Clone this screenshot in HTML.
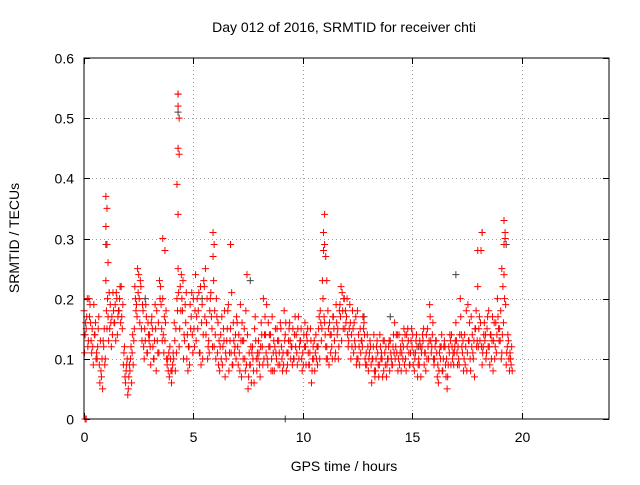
<!DOCTYPE html>
<html><head><meta charset="utf-8"><style>
html,body{margin:0;padding:0;background:#fff;}
svg text{font-family:"Liberation Sans",sans-serif;font-size:14px;fill:#000;}
</style></head><body>
<svg id="chart" width="640" height="480" viewBox="0 0 640 480" xmlns="http://www.w3.org/2000/svg">
<text x="344" y="32" text-anchor="middle">Day 012 of 2016, SRMTID for receiver chti</text>
<text transform="translate(19,238) rotate(-90)" text-anchor="middle">SRMTID / TECUs</text>
<text x="344" y="471" text-anchor="middle">GPS time / hours</text>
<g id="grid"></g>
<g id="ticks"></g>
<g id="marks"></g>
<rect x="84" y="58" width="525" height="361" fill="none" stroke="#000" stroke-width="1"/>
</svg>
<script>
const xTicks=[0,5,10,15,20];
const yTicks=[0,0.1,0.2,0.3,0.4,0.5,0.6];
const yTickLabels=["0","0.1","0.2","0.3","0.4","0.5","0.6"];
const tStart=0, tStep=0.1;
const seriesA=[0.18,0.15,0.13,0.16,0.12,0.14,0.10,0.09,0.07,0.12,
0.23,0.17,0.19,0.14,0.16,0.20,0.18,0.22,0.09,0.06,
0.04,0.08,0.11,0.15,0.19,0.24,0.22,0.18,0.13,0.11,
0.14,0.17,0.10,0.08,0.16,0.22,0.20,0.13,0.09,0.07,
0.06,0.10,0.15,0.25,0.22,0.18,0.13,0.10,0.12,0.17,
0.20,0.24,0.15,0.11,0.19,0.22,0.16,0.13,0.21,0.27,
0.14,0.11,0.08,0.17,0.13,0.10,0.19,0.15,0.09,0.12,
0.16,0.11,0.07,0.13,0.18,0.05,0.09,0.12,0.15,0.08,
0.11,0.16,0.20,0.14,0.09,0.12,0.17,0.08,0.10,0.13,
0.15,0.11,0.14,0.09,0.16,0.12,0.10,0.14,0.17,0.13,
0.11,0.16,0.13,0.09,0.06,0.10,0.14,0.12,0.18,0.23,
0.16,0.12,0.09,0.14,0.17,0.11,0.15,0.19,0.21,0.20,
0.17,0.13,0.10,0.15,0.12,0.18,0.09,0.13,0.16,0.11,
0.08,0.12,0.10,0.07,0.13,0.09,0.11,0.08,0.12,0.10,
0.13,0.09,0.16,0.11,0.14,0.08,0.12,0.10,0.15,0.09,
0.12,0.08,0.14,0.10,0.07,0.13,0.11,0.15,0.19,0.12,
0.09,0.13,0.06,0.10,0.08,0.12,0.05,0.11,0.14,0.09,
0.16,0.12,0.20,0.11,0.14,0.08,0.13,0.17,0.10,0.15,
0.22,0.13,0.09,0.16,0.11,0.18,0.14,0.08,0.12,0.20,
0.15,0.11,0.24,0.09,0.13,0.10];
const seriesB=[0.14,0.20,0.17,0.11,0.19,0.10,0.15,0.13,0.05,0.09,
0.15,0.21,0.12,0.18,0.13,0.17,0.22,0.15,0.12,0.09,
0.07,0.12,0.09,0.20,0.25,0.16,0.13,0.10,0.17,0.14,
0.09,0.12,0.19,0.13,0.23,0.15,0.11,0.18,0.08,0.10,
0.09,0.13,0.20,0.12,0.24,0.10,0.16,0.08,0.19,0.14,
0.12,0.17,0.21,0.09,0.14,0.25,0.10,0.18,0.15,0.12,
0.20,0.09,0.14,0.12,0.07,0.15,0.11,0.21,0.13,0.10,
0.09,0.19,0.13,0.10,0.24,0.11,0.06,0.08,0.13,0.10,
0.07,0.12,0.14,0.19,0.12,0.08,0.11,0.15,0.13,0.09,
0.10,0.18,0.08,0.13,0.10,0.15,0.17,0.09,0.12,0.10,
0.14,0.09,0.11,0.15,0.10,0.08,0.12,0.17,0.13,0.28,
0.12,0.18,0.14,0.10,0.13,0.16,0.12,0.22,0.15,0.18,
0.14,0.19,0.12,0.16,0.09,0.14,0.11,0.17,0.10,0.14,
0.11,0.06,0.14,0.10,0.09,0.12,0.07,0.11,0.09,0.13,
0.10,0.14,0.12,0.08,0.11,0.13,0.09,0.14,0.11,0.13,
0.09,0.11,0.07,0.13,0.12,0.09,0.14,0.10,0.13,0.16,
0.12,0.07,0.11,0.14,0.12,0.07,0.09,0.13,0.10,0.12,
0.11,0.09,0.14,0.08,0.12,0.19,0.10,0.14,0.07,0.12,
0.15,0.28,0.12,0.14,0.17,0.09,0.13,0.16,0.11,0.15,
0.18,0.22,0.30,0.12,0.08,0.12];
const seriesC=[0.11,0.17,0.20,0.13,0.09,0.16,0.12,0.06,0.10,0.15,
0.18,0.13,0.16,0.21,0.19,0.14,0.20,0.17,0.11,0.08,
0.05,0.10,0.14,0.22,0.17,0.20,0.15,0.12,0.19,0.16,
0.12,0.15,0.13,0.18,0.11,0.19,0.14,0.16,0.10,0.12,
0.08,0.16,0.11,0.21,0.18,0.23,0.19,0.14,0.09,0.21,
0.15,0.13,0.18,0.22,0.10,0.17,0.20,0.11,0.17,0.23,
0.10,0.16,0.12,0.09,0.18,0.13,0.08,0.11,0.16,0.14,
0.12,0.08,0.16,0.15,0.09,0.07,0.12,0.10,0.17,0.11,
0.09,0.14,0.10,0.11,0.16,0.14,0.08,0.12,0.15,0.11,
0.12,0.09,0.16,0.11,0.13,0.09,0.14,0.11,0.10,0.15,
0.09,0.12,0.15,0.11,0.08,0.13,0.10,0.15,0.16,0.20,
0.14,0.10,0.16,0.12,0.15,0.19,0.10,0.17,0.18,0.15,
0.20,0.15,0.14,0.11,0.17,0.10,0.15,0.12,0.14,0.09,
0.10,0.09,0.12,0.08,0.11,0.14,0.10,0.13,0.07,0.12,
0.11,0.12,0.10,0.14,0.09,0.11,0.15,0.08,0.13,0.11,
0.14,0.10,0.12,0.09,0.11,0.15,0.08,0.12,0.17,0.14,
0.10,0.11,0.08,0.12,0.10,0.09,0.07,0.14,0.12,0.11,
0.13,0.10,0.17,0.13,0.09,0.11,0.16,0.12,0.13,0.18,
0.12,0.16,0.11,0.13,0.15,0.12,0.10,0.13,0.16,0.17,
0.13,0.14,0.20,0.11,0.10,0.09];
const seriesD=[0.16,0.12,0.19,0.15,0.14,0.11,0.17,0.08,0.13,0.10,
0.20,0.15,0.17,0.16,0.21,0.18,0.16,0.19,0.07,0.10,
0.09,0.06,0.13,0.18,0.21,0.23,0.19,0.15,0.11,0.13,
0.16,0.10,0.15,0.11,0.20,0.13,0.17,0.10,0.11,0.08,
0.11,0.08,0.18,0.15,0.20,0.14,0.21,0.12,0.15,0.11,
0.18,0.20,0.11,0.16,0.23,0.14,0.12,0.20,0.12,0.18,
0.17,0.13,0.10,0.15,0.11,0.18,0.13,0.09,0.11,0.17,
0.14,0.13,0.10,0.08,0.14,0.09,0.11,0.06,0.10,0.13,
0.12,0.09,0.17,0.10,0.14,0.10,0.13,0.11,0.09,0.16,
0.08,0.13,0.11,0.15,0.12,0.10,0.12,0.15,0.13,0.08,
0.12,0.14,0.09,0.13,0.12,0.11,0.09,0.10,0.15,0.17,
0.10,0.15,0.11,0.17,0.10,0.14,0.18,0.13,0.20,0.16,
0.12,0.16,0.18,0.13,0.10,0.12,0.13,0.15,0.09,0.12,
0.13,0.10,0.08,0.12,0.07,0.10,0.13,0.09,0.10,0.08,
0.09,0.11,0.14,0.10,0.12,0.10,0.14,0.12,0.09,0.15,
0.11,0.13,0.09,0.12,0.14,0.11,0.10,0.13,0.11,0.10,
0.13,0.09,0.12,0.08,0.13,0.10,0.12,0.09,0.11,0.13,
0.09,0.14,0.12,0.10,0.18,0.13,0.08,0.11,0.15,0.13,
0.17,0.12,0.14,0.10,0.12,0.14,0.17,0.10,0.14,0.13,
0.10,0.16,0.19,0.14,0.11,0.08];
const spikeTimes=[0.05,0.1,1.0,1.05,1.0,1.05,1.1,4.3,4.3,4.35,4.3,4.35,4.25,4.3,3.6,3.7,11.0,10.95,11.0,11.05,11.1,19.2,19.25,19.2,18.2,18.0,5.9,5.95,6.7,19.1];
const spikeValues=[0.0,0.0,0.37,0.35,0.32,0.29,0.26,0.54,0.52,0.50,0.45,0.44,0.39,0.34,0.30,0.28,0.34,0.31,0.29,0.27,0.23,0.33,0.31,0.29,0.31,0.28,0.31,0.29,0.29,0.25];
const grayTimes=[4.3,4.3,6.7,18.2,19.3,9.2,0,1.0,7.6,17.0,14.0,2.8,12.8,15.3,5.4];
const grayValues=[0.54,0.51,0.29,0.31,0.29,0.0,0.14,0.29,0.23,0.24,0.17,0.20,0.17,0.12,0.20];

const X0=84,X1=609,Y0=419,Y1=58,XMAX=24,YMAX=0.6;
function xs(t){return X0+(t/XMAX)*(X1-X0);}
function ys(v){return Y0-(v/YMAX)*(Y0-Y1);}
const NS="http://www.w3.org/2000/svg";
const grid=document.getElementById('grid'),ticks=document.getElementById('ticks'),marks=document.getElementById('marks');
function line(p,x1,y1,x2,y2,st,dash){const l=document.createElementNS(NS,'line');l.setAttribute('x1',x1);l.setAttribute('y1',y1);l.setAttribute('x2',x2);l.setAttribute('y2',y2);l.setAttribute('stroke',st);l.setAttribute('stroke-width',1);if(dash)l.setAttribute('stroke-dasharray',dash);p.appendChild(l);return l;}
yTicks.forEach((v,i)=>{const y=Math.round(ys(v))+0.5;
 if(v>0&&v<YMAX){const g=line(grid,X0,y,X1,y,'#a0a0a0','1,3');
 
 }
 line(ticks,X0,y,X0+6,y,'#000');line(ticks,X1-6,y,X1,y,'#000');
 const t=document.createElementNS(NS,'text');t.setAttribute('x',X0-10);t.setAttribute('y',y+5);t.setAttribute('text-anchor','end');t.textContent=yTickLabels[i];
 
 
 ticks.appendChild(t);});
xTicks.forEach(v=>{const x=Math.round(xs(v))+0.5;
 if(v>0){const g=line(grid,x,Y1,x,Y0,'#a0a0a0','1,3');
 
 }
 line(ticks,x,Y0-6,x,Y0,'#000');line(ticks,x,Y1,x,Y1+6,'#000');
 const t=document.createElementNS(NS,'text');t.setAttribute('x',x);t.setAttribute('y',Y0+23);t.setAttribute('text-anchor','middle');t.textContent=String(v);
 
 
 ticks.appendChild(t);});
function plus(t,v,col){const x=xs(t),y=ys(v);const p=document.createElementNS(NS,'path');
 p.setAttribute('d','M'+(x-3.5)+' '+y+'H'+(x+3.5)+'M'+x+' '+(y-3.5)+'V'+(y+3.5));
 p.setAttribute('stroke',col);p.setAttribute('stroke-width',1);p.setAttribute('fill','none');
 
 
 marks.appendChild(p);}
grayTimes.forEach((t,i)=>plus(t,grayValues[i],'#404040'));
seriesA.forEach((v,i)=>plus(tStart+i*tStep,v,'#ff0000'));
seriesB.forEach((v,i)=>plus(tStart+i*tStep+0.05,v,'#ff0000'));
seriesC.forEach((v,i)=>plus(tStart+i*tStep+0.025,v,'#ff0000'));
seriesD.forEach((v,i)=>plus(tStart+i*tStep+0.075,v,'#ff0000'));
spikeTimes.forEach((t,i)=>plus(t,spikeValues[i],'#ff0000'));
</script>
</body></html>
